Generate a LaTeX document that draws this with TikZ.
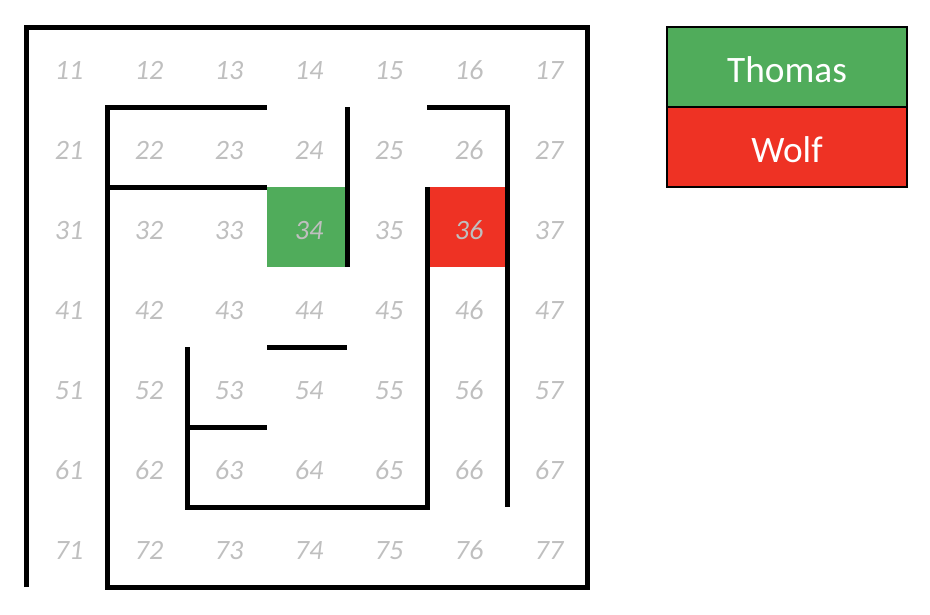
\documentclass[tikz,border=0pt]{standalone}
\usepackage{fontspec}
\setmainfont{Carlito}
\usepackage{tikz}
\usetikzlibrary{positioning}
\definecolor{thomasgreen}{RGB}{80,172,91}
\definecolor{wolfred}{RGB}{238,50,36}
\definecolor{numgray}{RGB}{191,191,191}

\begin{document}
\begin{tikzpicture}[x=60pt, y=-60pt, every node/.style={inner sep=0pt}, num/.style={text=numgray, text height=18pt, text depth=0pt, xshift=1.5pt, font=\fontsize{21}{25}\selectfont\itshape}, wall/.style={draw=black, line width=3.75pt, line join=miter}, legend/.style={draw=black, line width=1.5pt, outer sep=0pt, minimum width=180pt, minimum height=60pt, text height=23pt, text depth=0pt, text=white, font=\fontsize{28}{32}\selectfont}]
			\useasboundingbox (-0.3375,-0.3375) rectangle (11.2875,7.3375);
			
			\fill[thomasgreen] (3,2) rectangle (4,3);
			\fill[wolfred] (5,2) rectangle (6,3);
			
			\foreach \row in {1,...,7}
				\foreach \col in {1,...,7}
					\node[num] (c\row\col) at (\col-0.5,\row-0.5) {\row\col};
			
			\draw[wall] (0,7) -- (0,0) -- (7,0) -- (7,7) -- (1,7) -- (1,1) -- (3,1);
			\draw[wall] (1,2) -- (3,2);
			\draw[wall] (4,1) -- (4,3);
			\draw[wall] (5,1) -- (6,1) -- (6,6);
			\draw[wall] (5,2) -- (5,6) -- (2,6) -- (2,4);
			\draw[wall] (2,5) -- (3,5);
			\draw[wall] (3,4) -- (4,4);
			
			\node[legend, fill=thomasgreen] (thomas) at (9.5,0.5) {Thomas};
			\node[legend, fill=wolfred, below=0pt of thomas] (wolf) {Wolf};
\end{tikzpicture}
\end{document}
